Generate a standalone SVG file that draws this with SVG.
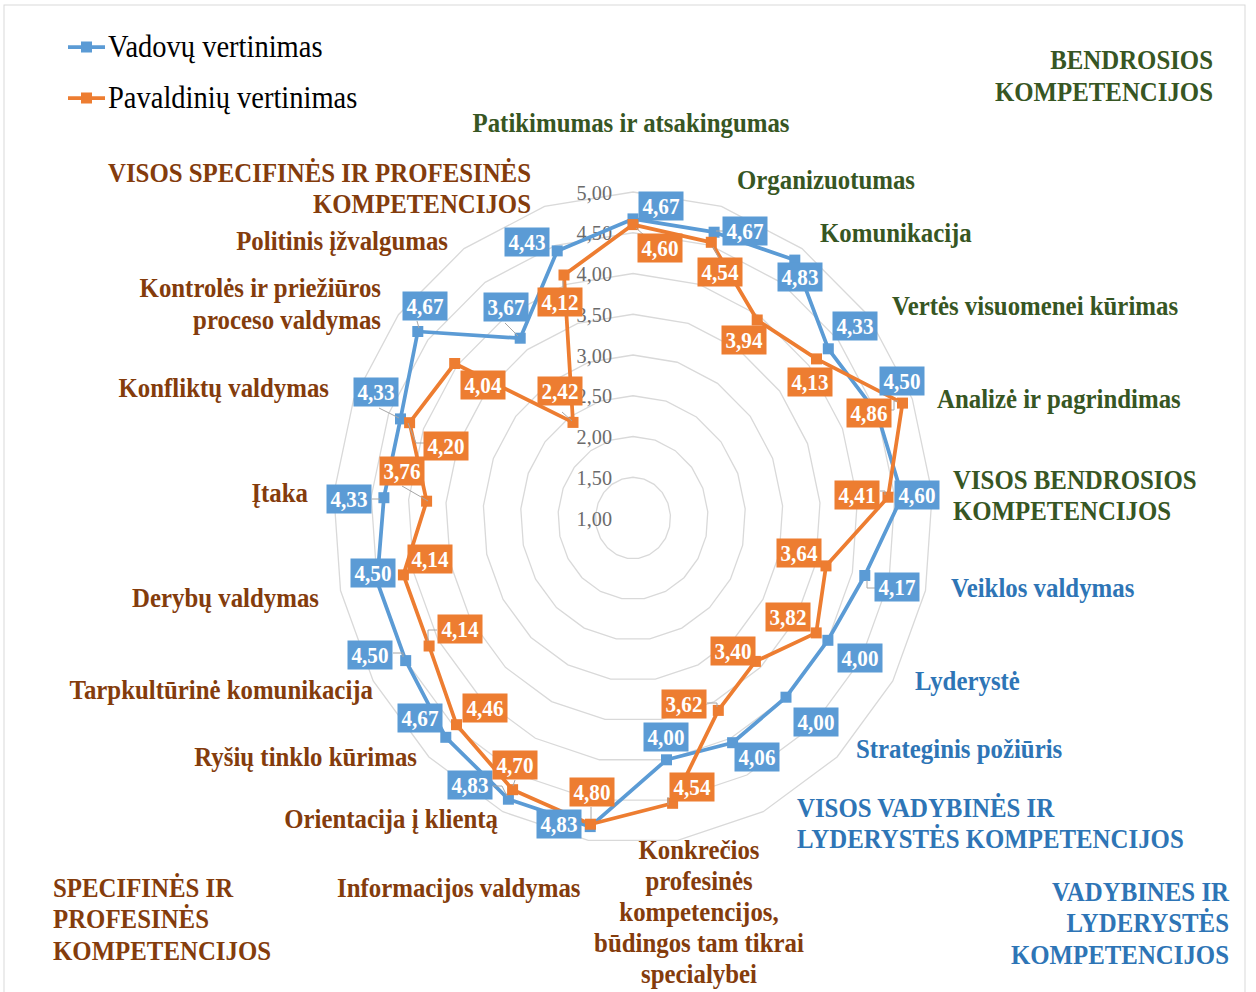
<svg xmlns="http://www.w3.org/2000/svg" xmlns:xlink="http://www.w3.org/1999/xlink" width="1256" height="992" viewBox="0 0 1256 992">
  <style>
    .tick{font-family:"Liberation Serif",serif;font-size:22px;fill:#6b6b6b;text-anchor:end}
    .cat{font-family:"Liberation Serif",serif;font-weight:bold;font-size:27px}
    .gen{fill:#375623}
    .mgt{fill:#2e75b6}
    .spec{fill:#843c0c}
    .end{text-anchor:end}
    .mid{text-anchor:middle}
    .leg{font-family:"Liberation Serif",serif;font-size:31px;fill:#000}
    .s1{fill:none;stroke:#5b9bd5;stroke-width:3.75;stroke-linejoin:round}
    .s2{fill:none;stroke:#ed7d31;stroke-width:3.75;stroke-linejoin:round}
    .m1{fill:#5b9bd5}
    .m2{fill:#ed7d31}
    .lb1 rect{fill:#5b9bd5}
    .lb2 rect{fill:#ed7d31}
    .lb1 text,.lb2 text{font-family:"Liberation Serif",serif;font-weight:bold;font-size:23px;fill:#fff;text-anchor:middle}
    .lead{fill:none;stroke:#a6a6a6;stroke-width:1}
  </style>
  <defs>
    <!-- unit ring: 21 spokes, one value step in each direction -->
    <polygon id="ring" fill="none" stroke="#d9d9d9" stroke-width="1.3" vector-effect="non-scaling-stroke"
      points="0,-81.5 22.11,-77.88 42.25,-67.34 58.64,-50.82 69.82,-29.77 74.79,-6.09 73.12,18.13 64.95,40.75 51.02,59.75 32.54,73.43 11.18,80.59 -11.18,80.59 -32.54,73.43 -51.02,59.75 -64.95,40.75 -73.12,18.13 -74.79,-6.09 -69.82,-29.77 -58.64,-50.82 -42.25,-67.34 -22.11,-77.88"/>
    <rect id="mk" x="-5.5" y="-5.5" width="11" height="11"/>
  </defs>

  <rect x="4" y="5" width="1241" height="995" fill="#fff" stroke="#d9d9d9" stroke-width="1"/>

  <!-- grid rings 1,50 .. 5,00 -->
  <g id="grid">
    <use xlink:href="#ring" transform="translate(633 518) scale(0.5)"/>
    <use xlink:href="#ring" transform="translate(633 518) scale(1)"/>
    <use xlink:href="#ring" transform="translate(633 518) scale(1.5)"/>
    <use xlink:href="#ring" transform="translate(633 518) scale(2)"/>
    <use xlink:href="#ring" transform="translate(633 518) scale(2.5)"/>
    <use xlink:href="#ring" transform="translate(633 518) scale(3)"/>
    <use xlink:href="#ring" transform="translate(633 518) scale(3.5)"/>
    <use xlink:href="#ring" transform="translate(633 518) scale(4)"/>
  </g>

  <!-- value axis -->
  <g id="axis">
    <text class="tick" transform="translate(612 199.5) scale(.92 1)">5,00</text>
    <text class="tick" transform="translate(612 240.2) scale(.92 1)">4,50</text>
    <text class="tick" transform="translate(612 281) scale(.92 1)">4,00</text>
    <text class="tick" transform="translate(612 321.7) scale(.92 1)">3,50</text>
    <text class="tick" transform="translate(612 362.5) scale(.92 1)">3,00</text>
    <text class="tick" transform="translate(612 403.2) scale(.92 1)">2,50</text>
    <text class="tick" transform="translate(612 444) scale(.92 1)">2,00</text>
    <text class="tick" transform="translate(612 484.7) scale(.92 1)">1,50</text>
    <text class="tick" transform="translate(612 525.5) scale(.92 1)">1,00</text>
  </g>

  <!-- series lines -->
  <g id="connectors">
    <polygon id="line-vadovu" class="s1" points="633,218.9 714.1,232.2 794.8,260.1 828.3,348.8 877.4,413.8 902.2,496.1 864.8,575.5 827.9,640.3 786,697.2 732.6,742.7 666.5,759.8 590.2,826.6 508.4,799.2 445.8,737.3 405.7,660.6 377.1,581.5 383.9,497.7 400.5,418.9 417.8,331.5 520.2,338.2 557.2,250.9"/>
    <polygon id="line-pavaldiniu" class="s2" points="633,224.6 711.3,242.3 757.2,320 816.5,358.9 902.5,403.1 888,497.2 826,565.9 816.2,632.9 755.4,661.4 718.3,710.4 672.6,803.3 590.5,824.2 512.6,789.7 456.5,724.7 429.1,646 403.4,574.9 426.6,501.2 409.6,422.7 454.7,363.5 573,422.4 564,275"/>
  </g>

  <!-- series markers -->
  <g id="markers-vadovu" class="m1">
    <use xlink:href="#mk" x="633" y="218.9"/><use xlink:href="#mk" x="714.1" y="232.2"/><use xlink:href="#mk" x="794.8" y="260.1"/>
    <use xlink:href="#mk" x="828.3" y="348.8"/><use xlink:href="#mk" x="877.4" y="413.8"/><use xlink:href="#mk" x="902.2" y="496.1"/>
    <use xlink:href="#mk" x="864.8" y="575.5"/><use xlink:href="#mk" x="827.9" y="640.3"/><use xlink:href="#mk" x="786" y="697.2"/>
    <use xlink:href="#mk" x="732.6" y="742.7"/><use xlink:href="#mk" x="666.5" y="759.8"/><use xlink:href="#mk" x="590.2" y="826.6"/>
    <use xlink:href="#mk" x="508.4" y="799.2"/><use xlink:href="#mk" x="445.8" y="737.3"/><use xlink:href="#mk" x="405.7" y="660.6"/>
    <use xlink:href="#mk" x="377.1" y="581.5"/><use xlink:href="#mk" x="383.9" y="497.7"/><use xlink:href="#mk" x="400.5" y="418.9"/>
    <use xlink:href="#mk" x="417.8" y="331.5"/><use xlink:href="#mk" x="520.2" y="338.2"/><use xlink:href="#mk" x="557.2" y="250.9"/>
  </g>
  <g id="markers-pavaldiniu" class="m2">
    <use xlink:href="#mk" x="633" y="224.6"/><use xlink:href="#mk" x="711.3" y="242.3"/><use xlink:href="#mk" x="757.2" y="320"/>
    <use xlink:href="#mk" x="816.5" y="358.9"/><use xlink:href="#mk" x="902.5" y="403.1"/><use xlink:href="#mk" x="888" y="497.2"/>
    <use xlink:href="#mk" x="826" y="565.9"/><use xlink:href="#mk" x="816.2" y="632.9"/><use xlink:href="#mk" x="755.4" y="661.4"/>
    <use xlink:href="#mk" x="718.3" y="710.4"/><use xlink:href="#mk" x="672.6" y="803.3"/><use xlink:href="#mk" x="590.5" y="824.2"/>
    <use xlink:href="#mk" x="512.6" y="789.7"/><use xlink:href="#mk" x="456.5" y="724.7"/><use xlink:href="#mk" x="429.1" y="646"/>
    <use xlink:href="#mk" x="403.4" y="574.9"/><use xlink:href="#mk" x="426.6" y="501.2"/><use xlink:href="#mk" x="409.6" y="422.7"/>
    <use xlink:href="#mk" x="454.7" y="363.5"/><use xlink:href="#mk" x="573" y="422.4"/><use xlink:href="#mk" x="564" y="275"/>
  </g>

  <!-- leader lines for data labels -->
  <g id="leaders" class="lead">
    <path d="M636 228 L645 236"/>
    <path d="M716 231 H723"/>
    <path d="M713 247 L719 258"/>
    <path d="M898 401 H894 V410 H891"/>
    <path d="M880 491 H885 V495"/>
    <path d="M867 580 V588 H876"/>
    <path d="M707 703 H717 V707"/>
    <path d="M668 797 V805"/>
    <path d="M591 807 V819"/>
    <path d="M493 786 H502 L507 796"/>
    <path d="M515 780 L513 786"/>
    <path d="M393 653 H403 V657"/>
    <path d="M437 630 H428 V641"/>
    <path d="M372 499 H380"/>
    <path d="M379 408 L399 418"/>
    <path d="M408 423 L416 443 H424"/>
    <path d="M402 486 L428 501"/>
    <path d="M417 321 L419 328"/>
    <path d="M505 323 L518 336"/>
    <path d="M562 412 L572 421"/>
    <path d="M563 281 V288"/>
  </g>

  <!-- data labels: Vadovų vertinimas -->
  <g id="labels-vadovu" class="lb1">
    <g transform="translate(661 206)"><rect x="-22.5" y="-14.5" width="45" height="29"/><text transform="scale(.92 1)" y="7.5">4,67</text></g>
    <g transform="translate(745 231)"><rect x="-22.5" y="-14.5" width="45" height="29"/><text transform="scale(.92 1)" y="7.5">4,67</text></g>
    <g transform="translate(800 277)"><rect x="-22.5" y="-14.5" width="45" height="29"/><text transform="scale(.92 1)" y="7.5">4,83</text></g>
    <g transform="translate(855 326)"><rect x="-22.5" y="-14.5" width="45" height="29"/><text transform="scale(.92 1)" y="7.5">4,33</text></g>
    <g transform="translate(902 381)"><rect x="-22.5" y="-14.5" width="45" height="29"/><text transform="scale(.92 1)" y="7.5">4,50</text></g>
    <g transform="translate(917 495)"><rect x="-22.5" y="-14.5" width="45" height="29"/><text transform="scale(.92 1)" y="7.5">4,60</text></g>
    <g transform="translate(897 587)"><rect x="-22.5" y="-14.5" width="45" height="29"/><text transform="scale(.92 1)" y="7.5">4,17</text></g>
    <g transform="translate(860 658)"><rect x="-22.5" y="-14.5" width="45" height="29"/><text transform="scale(.92 1)" y="7.5">4,00</text></g>
    <g transform="translate(816 722)"><rect x="-22.5" y="-14.5" width="45" height="29"/><text transform="scale(.92 1)" y="7.5">4,00</text></g>
    <g transform="translate(757 757)"><rect x="-22.5" y="-14.5" width="45" height="29"/><text transform="scale(.92 1)" y="7.5">4,06</text></g>
    <g transform="translate(666 737)"><rect x="-22.5" y="-14.5" width="45" height="29"/><text transform="scale(.92 1)" y="7.5">4,00</text></g>
    <g transform="translate(559 824)"><rect x="-22.5" y="-14.5" width="45" height="29"/><text transform="scale(.92 1)" y="7.5">4,83</text></g>
    <g transform="translate(470 785)"><rect x="-22.5" y="-14.5" width="45" height="29"/><text transform="scale(.92 1)" y="7.5">4,83</text></g>
    <g transform="translate(420 718)"><rect x="-22.5" y="-14.5" width="45" height="29"/><text transform="scale(.92 1)" y="7.5">4,67</text></g>
    <g transform="translate(370 655)"><rect x="-22.5" y="-14.5" width="45" height="29"/><text transform="scale(.92 1)" y="7.5">4,50</text></g>
    <g transform="translate(373 573)"><rect x="-22.5" y="-14.5" width="45" height="29"/><text transform="scale(.92 1)" y="7.5">4,50</text></g>
    <g transform="translate(349 499)"><rect x="-22.5" y="-14.5" width="45" height="29"/><text transform="scale(.92 1)" y="7.5">4,33</text></g>
    <g transform="translate(376 392)"><rect x="-22.5" y="-14.5" width="45" height="29"/><text transform="scale(.92 1)" y="7.5">4,33</text></g>
    <g transform="translate(425 306)"><rect x="-22.5" y="-14.5" width="45" height="29"/><text transform="scale(.92 1)" y="7.5">4,67</text></g>
    <g transform="translate(506 307)"><rect x="-22.5" y="-14.5" width="45" height="29"/><text transform="scale(.92 1)" y="7.5">3,67</text></g>
    <g transform="translate(527 242)"><rect x="-22.5" y="-14.5" width="45" height="29"/><text transform="scale(.92 1)" y="7.5">4,43</text></g>
  </g>

  <!-- data labels: Pavaldinių vertinimas -->
  <g id="labels-pavaldiniu" class="lb2">
    <g transform="translate(660 248)"><rect x="-22.5" y="-14.5" width="45" height="29"/><text transform="scale(.92 1)" y="7.5">4,60</text></g>
    <g transform="translate(720 272)"><rect x="-22.5" y="-14.5" width="45" height="29"/><text transform="scale(.92 1)" y="7.5">4,54</text></g>
    <g transform="translate(744 340)"><rect x="-22.5" y="-14.5" width="45" height="29"/><text transform="scale(.92 1)" y="7.5">3,94</text></g>
    <g transform="translate(810 382)"><rect x="-22.5" y="-14.5" width="45" height="29"/><text transform="scale(.92 1)" y="7.5">4,13</text></g>
    <g transform="translate(869 413)"><rect x="-22.5" y="-14.5" width="45" height="29"/><text transform="scale(.92 1)" y="7.5">4,86</text></g>
    <g transform="translate(857 495)"><rect x="-22.5" y="-14.5" width="45" height="29"/><text transform="scale(.92 1)" y="7.5">4,41</text></g>
    <g transform="translate(799 553)"><rect x="-22.5" y="-14.5" width="45" height="29"/><text transform="scale(.92 1)" y="7.5">3,64</text></g>
    <g transform="translate(788 617)"><rect x="-22.5" y="-14.5" width="45" height="29"/><text transform="scale(.92 1)" y="7.5">3,82</text></g>
    <g transform="translate(733 651)"><rect x="-22.5" y="-14.5" width="45" height="29"/><text transform="scale(.92 1)" y="7.5">3,40</text></g>
    <g transform="translate(684 704)"><rect x="-22.5" y="-14.5" width="45" height="29"/><text transform="scale(.92 1)" y="7.5">3,62</text></g>
    <g transform="translate(692 787)"><rect x="-22.5" y="-14.5" width="45" height="29"/><text transform="scale(.92 1)" y="7.5">4,54</text></g>
    <g transform="translate(592 792)"><rect x="-22.5" y="-14.5" width="45" height="29"/><text transform="scale(.92 1)" y="7.5">4,80</text></g>
    <g transform="translate(515 765)"><rect x="-22.5" y="-14.5" width="45" height="29"/><text transform="scale(.92 1)" y="7.5">4,70</text></g>
    <g transform="translate(485 708)"><rect x="-22.5" y="-14.5" width="45" height="29"/><text transform="scale(.92 1)" y="7.5">4,46</text></g>
    <g transform="translate(460 629)"><rect x="-22.5" y="-14.5" width="45" height="29"/><text transform="scale(.92 1)" y="7.5">4,14</text></g>
    <g transform="translate(430 559)"><rect x="-22.5" y="-14.5" width="45" height="29"/><text transform="scale(.92 1)" y="7.5">4,14</text></g>
    <g transform="translate(402 471)"><rect x="-22.5" y="-14.5" width="45" height="29"/><text transform="scale(.92 1)" y="7.5">3,76</text></g>
    <g transform="translate(446 446)"><rect x="-22.5" y="-14.5" width="45" height="29"/><text transform="scale(.92 1)" y="7.5">4,20</text></g>
    <g transform="translate(483 385)"><rect x="-22.5" y="-14.5" width="45" height="29"/><text transform="scale(.92 1)" y="7.5">4,04</text></g>
    <g transform="translate(560 391)"><rect x="-22.5" y="-14.5" width="45" height="29"/><text transform="scale(.92 1)" y="7.5">2,42</text></g>
    <g transform="translate(560 302)"><rect x="-22.5" y="-14.5" width="45" height="29"/><text transform="scale(.92 1)" y="7.5">4,12</text></g>
  </g>

  <!-- category labels: general competencies -->
  <g id="cat-patikimumas"><text class="cat gen mid" transform="translate(631 132) scale(.92 1)">Patikimumas ir atsakingumas</text></g>
  <g id="cat-organizuotumas"><text class="cat gen" transform="translate(737 189) scale(.92 1)">Organizuotumas</text></g>
  <g id="cat-komunikacija"><text class="cat gen" transform="translate(820 242) scale(.92 1)">Komunikacija</text></g>
  <g id="cat-verte"><text class="cat gen" transform="translate(892 315) scale(.92 1)">Vertės visuomenei kūrimas</text></g>
  <g id="cat-analize"><text class="cat gen" transform="translate(937 408) scale(.92 1)">Analizė ir pagrindimas</text></g>
  <g id="cat-visos-bendrosios"><text class="cat gen" transform="translate(953 489) scale(.92 1)"><tspan x="0">VISOS BENDROSIOS</tspan><tspan x="0" dy="31">KOMPETENCIJOS</tspan></text></g>

  <!-- category labels: management and leadership -->
  <g id="cat-veiklos"><text class="cat mgt" transform="translate(951 597) scale(.92 1)">Veiklos valdymas</text></g>
  <g id="cat-lyderyste"><text class="cat mgt" transform="translate(915 690) scale(.92 1)">Lyderystė</text></g>
  <g id="cat-strateginis"><text class="cat mgt" transform="translate(856 758) scale(.92 1)">Strateginis požiūris</text></g>
  <g id="cat-visos-vadybines"><text class="cat mgt" transform="translate(797 817) scale(.92 1)"><tspan x="0">VISOS VADYBINĖS IR</tspan><tspan x="0" dy="31">LYDERYSTĖS KOMPETENCIJOS</tspan></text></g>

  <!-- category labels: specific and professional -->
  <g id="cat-konkrecios"><text class="cat spec mid" transform="translate(699 859) scale(.92 1)"><tspan x="0">Konkrečios</tspan><tspan x="0" dy="31">profesinės</tspan><tspan x="0" dy="31">kompetencijos,</tspan><tspan x="0" dy="31">būdingos tam tikrai</tspan><tspan x="0" dy="31">specialybei</tspan></text></g>
  <g id="cat-informacijos"><text class="cat spec" transform="translate(337 897) scale(.92 1)">Informacijos valdymas</text></g>
  <g id="cat-orientacija"><text class="cat spec end" transform="translate(498 828) scale(.92 1)">Orientacija į klientą</text></g>
  <g id="cat-rysiu"><text class="cat spec end" transform="translate(417 766) scale(.92 1)">Ryšių tinklo kūrimas</text></g>
  <g id="cat-tarpkulturine"><text class="cat spec end" transform="translate(373 699) scale(.92 1)">Tarpkultūrinė komunikacija</text></g>
  <g id="cat-derybu"><text class="cat spec end" transform="translate(319 607) scale(.92 1)">Derybų valdymas</text></g>
  <g id="cat-itaka"><text class="cat spec end" transform="translate(308 502) scale(.92 1)">Įtaka</text></g>
  <g id="cat-konfliktu"><text class="cat spec end" transform="translate(329 397) scale(.92 1)">Konfliktų valdymas</text></g>
  <g id="cat-kontroles"><text class="cat spec end" transform="translate(381 297) scale(.92 1)"><tspan x="0">Kontrolės ir priežiūros</tspan><tspan x="0" dy="32">proceso valdymas</tspan></text></g>
  <g id="cat-politinis"><text class="cat spec end" transform="translate(448 250) scale(.92 1)">Politinis įžvalgumas</text></g>
  <g id="cat-visos-specifines"><text class="cat spec end" transform="translate(531 182) scale(.92 1)"><tspan x="0">VISOS SPECIFINĖS IR PROFESINĖS</tspan><tspan x="0" dy="31">KOMPETENCIJOS</tspan></text></g>

  <!-- group headings -->
  <g id="group-bendrosios"><text class="cat gen end" transform="translate(1213 69) scale(.92 1)"><tspan x="0">BENDROSIOS</tspan><tspan x="0" dy="32">KOMPETENCIJOS</tspan></text></g>
  <g id="group-vadybines"><text class="cat mgt end" transform="translate(1229 901) scale(.92 1)"><tspan x="0">VADYBINES IR</tspan><tspan x="0" dy="31.5">LYDERYSTĖS</tspan><tspan x="0" dy="31.5">KOMPETENCIJOS</tspan></text></g>
  <g id="group-specifines"><text class="cat spec" transform="translate(53 897) scale(.92 1)"><tspan x="0">SPECIFINĖS IR</tspan><tspan x="0" dy="31.5">PROFESINĖS</tspan><tspan x="0" dy="31.5">KOMPETENCIJOS</tspan></text></g>

  <!-- legend -->
  <g id="legend">
    <line x1="68" y1="47" x2="105" y2="47" stroke="#5b9bd5" stroke-width="3.75"/>
    <use xlink:href="#mk" x="86.5" y="47" class="m1"/>
    <text class="leg" transform="translate(108 57) scale(.92 1)">Vadovų vertinimas</text>
    <line x1="68" y1="98" x2="105" y2="98" stroke="#ed7d31" stroke-width="3.75"/>
    <use xlink:href="#mk" x="86.5" y="98" class="m2"/>
    <text class="leg" transform="translate(108 108) scale(.92 1)">Pavaldinių vertinimas</text>
  </g>
</svg>
